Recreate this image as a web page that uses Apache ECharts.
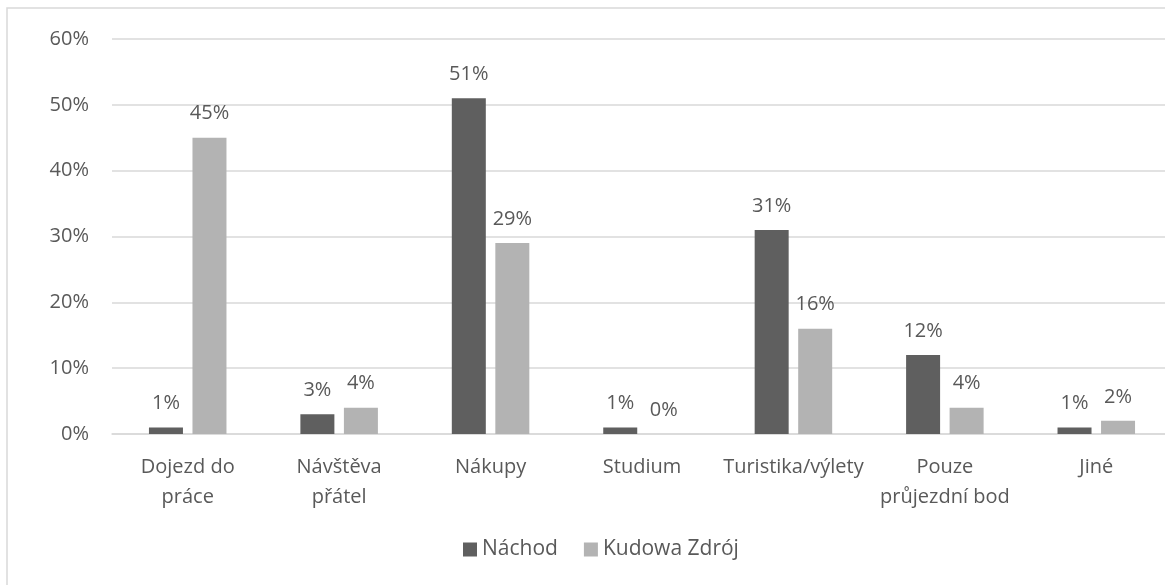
<!DOCTYPE html>
<html><head><meta charset="utf-8">
<script src="https://cdn.jsdelivr.net/npm/echarts@6/dist/echarts.min.js"></script>
<style>html,body{margin:0;padding:0;background:#fff}#c{width:1165px;height:585px}</style>
</head><body><div id="c"></div>
<script>
const categories = ['Dojezd do\npráce', 'Návštěva\npřátel', 'Nákupy', 'Studium', 'Turistika/výlety', 'Pouze\nprůjezdní bod', 'Jiné'];
const nachod = [1, 3, 51, 1, 31, 12, 1];
const kudowa = [45, 4, 29, 0, 16, 4, 2];
const seriesNames = ['Náchod', 'Kudowa Zdrój'];

const font = '"Open Sans", "Noto Sans", sans-serif';
const txt = '#595959';
const fs = 20;
const chart = echarts.init(document.getElementById('c'), null, {renderer: 'canvas'});
const lbl = {show: true, position: 'top', distance: 14, formatter: '{c}%', color: txt, fontSize: fs, fontFamily: font};
chart.setOption({
  animation: false,
  graphic: [{type: 'rect', shape: {x: 7, y: 8, width: 1170, height: 600}, style: {fill: 'none', stroke: '#d9d9d9', lineWidth: 1.5}}],
  grid: {left: 112, width: 1060, top: 39, height: 395, containLabel: false, outerBoundsMode: 'none'},
  legend: {data: seriesNames, top: 534, left: 458, itemWidth: 14, itemHeight: 14, itemGap: 26, icon: 'rect',
    textStyle: {color: txt, fontSize: 21, fontFamily: font}},
  xAxis: {type: 'category', data: categories,
    axisLine: {lineStyle: {color: '#d9d9d9', width: 1.5}}, axisTick: {show: false},
    axisLabel: {color: txt, fontSize: fs, fontFamily: font, margin: 18, lineHeight: 30, interval: 0}},
  yAxis: {type: 'value', min: 0, max: 60, interval: 10,
    axisLabel: {formatter: '{value}%', color: txt, fontSize: fs, fontFamily: font, margin: 23},
    splitLine: {lineStyle: {color: '#d9d9d9', width: 1.5}}, axisLine: {show: false}, axisTick: {show: false}},
  series: [
    {name: seriesNames[0], type: 'bar', data: nachod, barWidth: 34, barGap: '28%', itemStyle: {color: '#5f5f5f'}, label: lbl},
    {name: seriesNames[1], type: 'bar', data: kudowa, barWidth: 34, itemStyle: {color: '#b3b3b3'}, label: lbl}
  ]
});
</script></body></html>
